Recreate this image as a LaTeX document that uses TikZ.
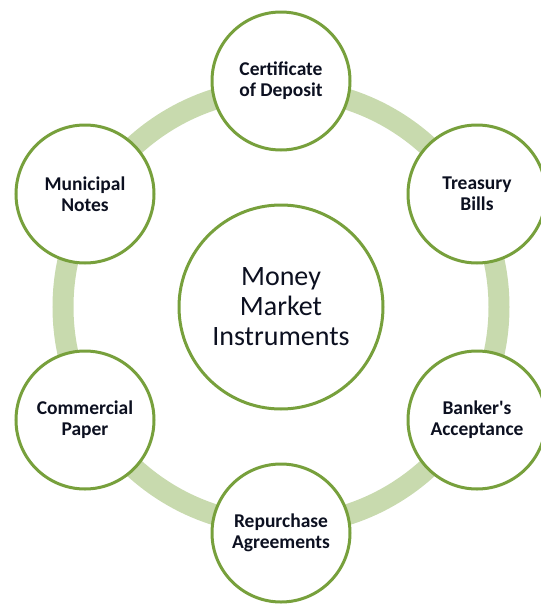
\documentclass[tikz,border=0pt]{standalone}
\usepackage{fontspec}
\setmainfont{Carlito}
\definecolor{leaf}{RGB}{119,160,60}
\definecolor{ringgreen}{RGB}{200,218,174}
\definecolor{inktext}{RGB}{12,16,32}

\begin{document}
\begin{tikzpicture}[
  x=1pt, y=-1pt,
  item/.style={draw=leaf, line width=3pt, circle, fill=white, minimum size=138pt, inner sep=0pt, align=center, text=inktext, font=\fontsize{19.5}{21}\selectfont\bfseries},
  hub/.style={item, minimum size=204pt, font=\fontsize{28}{30}\selectfont},
  ring/.style={draw=ringgreen, line width=21pt}
]
\useasboundingbox (0,0) rectangle (541,608);
% ring behind everything
\coordinate (hubc) at (281,307);
\draw[ring] (hubc) circle (218);
% hub
\node[hub] (mmi) at (hubc) {Money\\Market\\Instruments};
% the six instruments round it
\node[item] (cod) at (281,81) {Certificate\\of Deposit};
\node[item] (tbill) at (477,194) {Treasury\\Bills};
\node[item] (bacc) at (477,420) {Banker\textquotesingle s\\Acceptance};
\node[item] (repo) at (281,533) {Repurchase\\Agreements};
\node[item] (cpap) at (85,420) {Commercial\\Paper};
\node[item] (munn) at (85,194) {Municipal\\Notes};
\end{tikzpicture}
\end{document}
